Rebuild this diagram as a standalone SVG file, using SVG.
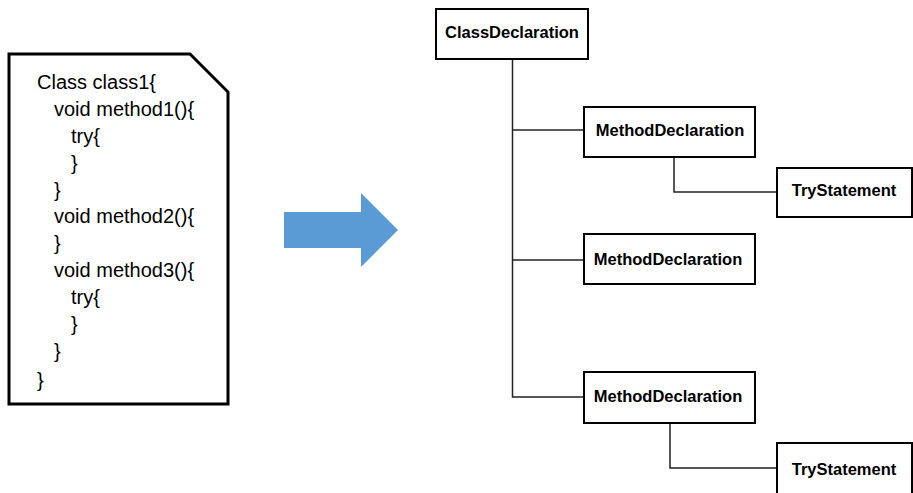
<svg xmlns="http://www.w3.org/2000/svg" width="913" height="493" viewBox="0 0 913 493">
<style>
.code{font-family:"Liberation Sans",Arial,sans-serif;font-size:20px;fill:#000}
.box{fill:#fff;stroke:#000;stroke-width:2}
.lbl{font-family:"Liberation Sans",Arial,sans-serif;font-size:16.5px;font-weight:bold;fill:#000;text-anchor:middle;dominant-baseline:central}
.con{fill:none;stroke:#222;stroke-width:1.5}
</style>
<rect width="913" height="493" fill="#fff"/>
<g id="source">
<path d="M9,54 H190 L228,92 V404 H9 Z" fill="#fff" stroke="#000" stroke-width="3" stroke-linejoin="miter"/>
<text class="code" x="37" y="89">Class class1{</text>
<text class="code" x="54" y="116">void method1(){</text>
<text class="code" x="71" y="143">try{</text>
<text class="code" x="71" y="170">}</text>
<text class="code" x="54" y="197">}</text>
<text class="code" x="54" y="223">void method2(){</text>
<text class="code" x="54" y="250">}</text>
<text class="code" x="54" y="277">void method3(){</text>
<text class="code" x="71" y="304">try{</text>
<text class="code" x="71" y="331">}</text>
<text class="code" x="54" y="358">}</text>
<text class="code" x="37" y="387">}</text>
</g>
<g id="arrow">
<polygon points="284,212 361,212 361,193 398,230 361,267 361,248 284,248" fill="#5B9BD5"/>
</g>
<g id="connectors">
<path class="con" d="M512.5,59 V397 H584"/>
<path class="con" d="M512.5,130 H584"/>
<path class="con" d="M512.5,260 H584"/>
<path class="con" d="M674,157 V192 H777"/>
<path class="con" d="M670,423 V468 H777"/>
</g>
<g id="classDecl">
<rect class="box" x="436" y="9" width="152" height="50"/>
<text class="lbl" x="512" y="32">ClassDeclaration</text>
</g>
<g id="method1">
<rect class="box" x="584" y="107" width="171" height="50"/>
<text class="lbl" x="670" y="130">MethodDeclaration</text>
</g>
<g id="try1">
<rect class="box" x="777" y="168" width="135" height="49"/>
<text class="lbl" x="844" y="190">TryStatement</text>
</g>
<g id="method2">
<rect class="box" x="584" y="234" width="171" height="50"/>
<text class="lbl" x="668" y="259">MethodDeclaration</text>
</g>
<g id="method3">
<rect class="box" x="584" y="372" width="171" height="51"/>
<text class="lbl" x="668" y="396">MethodDeclaration</text>
</g>
<g id="try2">
<rect class="box" x="777" y="443" width="135" height="60"/>
<text class="lbl" x="844" y="469">TryStatement</text>
</g>
</svg>
